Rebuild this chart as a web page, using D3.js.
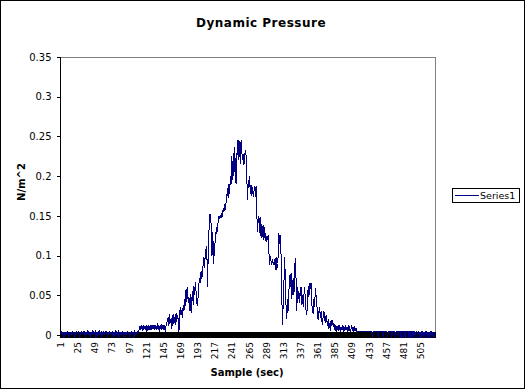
<!DOCTYPE html>
<html><head><meta charset="utf-8">
<script src="https://cdn.jsdelivr.net/npm/d3@7"></script>
<style>
html,body{margin:0;padding:0;background:#fff;}
svg{display:block;}
text{font-family:"DejaVu Sans",Verdana,sans-serif;}
</style></head>
<body>
<svg id="chart" width="527" height="391"></svg>
<script>
const title = "Dynamic Pressure";
const xTitle = "Sample (sec)";
const yTitle = "N/m^2";
const seriesName = "Series1";
const yTicks = [0, 0.05, 0.1, 0.15, 0.2, 0.25, 0.3, 0.35];
const xTickLabels = [1,25,49,73,97,121,145,169,193,217,241,265,289,313,337,361,385,409,433,457,481,505];
const values = [
0.004,0.001,0.004,0.000,0.004,-0.004,0.004,0.001,0.004,0.000,
0.004,0.002,-0.004,0.004,0.001,0.004,0.000,0.004,0.002,0.004,
-0.004,0.004,0.001,0.004,0.000,0.004,0.002,-0.004,0.004,0.001,
0.004,0.000,0.004,0.002,0.004,-0.004,0.004,0.001,0.004,0.000,
0.004,0.002,-0.004,0.004,0.000,0.004,0.001,0.004,0.002,0.004,
-0.004,0.004,0.001,0.004,0.000,0.004,0.002,0.004,-0.004,0.004,
0.001,0.004,0.000,0.004,0.002,0.004,-0.004,0.004,0.001,0.004,
0.000,0.004,0.002,0.004,-0.004,0.004,0.001,0.004,0.000,0.004,
0.002,0.004,-0.004,0.004,0.001,0.004,0.000,0.004,0.002,-0.004,
0.004,0.001,0.004,0.000,0.004,0.002,0.004,-0.004,0.004,0.001,
0.004,0.000,0.004,-0.004,0.004,0.002,0.004,0.001,0.004,0.003,
0.006,0.011,0.006,0.012,0.008,0.006,0.013,0.007,0.011,0.006,
0.012,0.004,0.009,0.013,0.006,0.011,0.007,0.013,0.006,0.012,
0.008,0.013,0.006,0.012,0.007,0.011,0.013,0.006,0.012,0.004,
0.011,0.013,0.007,0.012,0.006,0.013,0.009,0.004,0.012,0.015,
0.018,0.023,0.012,0.026,0.015,0.021,0.008,0.019,0.027,0.014,
0.022,0.012,0.028,0.017,0.025,0.020,0.004,0.028,0.035,0.025,
0.032,0.022,0.038,0.030,0.045,0.036,0.058,0.042,0.060,0.040,
0.048,0.030,0.052,0.028,0.045,0.055,0.038,0.062,0.050,0.067,
0.055,0.040,0.036,0.050,0.065,0.072,0.066,0.080,0.070,0.078,
0.090,0.098,0.085,0.108,0.095,0.112,0.060,0.100,0.130,0.152,
0.152,0.140,0.100,0.130,0.090,0.118,0.100,0.130,0.128,0.136,
0.130,0.145,0.150,0.146,0.151,0.147,0.152,0.150,0.160,0.155,
0.165,0.158,0.167,0.175,0.185,0.172,0.190,0.178,0.200,0.190,
0.225,0.195,0.229,0.200,0.237,0.210,0.190,0.222,0.245,0.220,
0.245,0.235,0.215,0.245,0.232,0.220,0.228,0.214,0.225,0.233,
0.226,0.200,0.170,0.195,0.185,0.200,0.178,0.189,0.175,0.186,
0.174,0.180,0.188,0.174,0.188,0.153,0.130,0.145,0.150,0.128,
0.148,0.122,0.140,0.130,0.120,0.138,0.122,0.128,0.117,0.125,
0.120,0.126,0.104,0.088,0.100,0.092,0.088,0.096,0.090,0.088,
0.096,0.082,0.098,0.082,0.090,0.100,0.128,0.115,0.126,0.100,
0.050,0.012,0.040,0.065,0.098,0.070,0.035,0.020,0.045,0.030,
0.055,0.075,0.060,0.078,0.045,0.060,0.072,0.050,0.085,0.097,
0.070,0.030,0.060,0.045,0.055,0.040,0.058,0.060,0.038,0.050,
0.035,0.050,0.060,0.045,0.030,0.025,0.040,0.062,0.048,0.066,
0.058,0.066,0.040,0.030,0.027,0.045,0.035,0.059,0.050,0.040,
0.025,0.019,0.030,0.035,0.022,0.030,0.018,0.013,0.025,0.030,
0.020,0.015,0.025,0.018,0.012,0.020,0.008,0.015,0.005,0.019,
0.012,0.019,0.010,0.015,0.006,0.012,0.004,0.011,0.008,0.012,
0.005,0.012,0.004,0.010,0.006,0.012,0.004,0.011,0.005,0.012,
0.006,0.010,0.004,0.012,0.005,0.011,0.004,0.008,0.012,0.005,
0.010,0.004,0.011,0.005,0.009,0.004,0.004,0.004,0.004,0.004,
0.004,0.004,0.004,0.004,0.004,0.004,0.004,0.004,0.004,0.004,
0.004,0.004,0.004,0.004,0.004,0.004,0.004,-0.004,0.004,0.004,
0.004,0.004,0.004,0.004,0.004,-0.004,0.004,0.004,0.004,0.004,
0.004,0.004,-0.004,0.004,0.004,0.004,0.004,0.004,-0.004,0.004,
0.004,0.004,0.004,0.004,-0.004,0.004,0.004,0.004,0.004,-0.004,
0.004,0.004,0.004,-0.004,0.004,0.004,0.004,-0.004,0.004,0.004,
0.004,-0.004,0.004,0.004,-0.004,0.004,0.004,0.004,-0.004,0.004,
0.004,-0.004,0.004,0.004,-0.004,0.004,0.004,-0.004,0.004,0.004,
-0.004,0.004,0.004,-0.004,0.004,-0.004,0.004,0.004,-0.004,0.004,
-0.004,0.004,0.004,-0.004,0.004,-0.004,0.004,-0.004,0.004,0.004,
-0.004,0.004,-0.004,0.004,-0.004
];
const samples = values.map((v,i)=>i+1);
const N = values.length;

const svg = d3.select("#chart");
const W = 527, H = 391;
const plot = {left:60, right:435, top:57, bottom:335};

// outer frame
svg.append("rect").attr("x",0.5).attr("y",0.5).attr("width",W-3).attr("height",H-3)
  .attr("fill","#fff").attr("stroke","#000").attr("stroke-width",1);

const x = d3.scaleLinear().domain([0.5, N+0.5]).range([plot.left, plot.right]);
const y = d3.scaleLinear().domain([0, 0.35]).range([plot.bottom, plot.top]);

// plot border (grey top/right)
svg.append("path")
  .attr("d", `M${plot.left},${plot.top+0.5}H${plot.right+0.5}V${plot.bottom}`)
  .attr("fill","none").attr("stroke","#808080").attr("stroke-width",1)
  .attr("shape-rendering","crispEdges");

// Y axis
const yAxis = d3.axisLeft(y).tickValues(yTicks).tickSize(4).tickPadding(5)
  .tickFormat(d => d===0 ? "0" : String(+d.toFixed(2)));
const gy = svg.append("g").attr("transform",`translate(${plot.left+0.5},0)`).call(yAxis);
gy.selectAll("line,path").attr("stroke","#000").attr("shape-rendering","crispEdges");
gy.select(".domain").attr("d",`M0,${plot.top}V${plot.bottom}`);
gy.selectAll("text").attr("font-size","10px").attr("fill","#000");

// X axis tick marks (every category boundary, cross type)
const boundaries = d3.range(0, N+1).map(i => i+0.5);
const xTickAxis = d3.axisBottom(x).tickValues(boundaries).tickSize(6).tickFormat("");
const gxt = svg.append("g").attr("transform",`translate(0,${plot.bottom-3})`).call(xTickAxis);
gxt.select(".domain").remove();
gxt.selectAll("line").attr("stroke","#000").attr("shape-rendering","crispEdges");

// X axis line
svg.append("line").attr("x1",plot.left).attr("x2",plot.right+1)
  .attr("y1",plot.bottom+0.5).attr("y2",plot.bottom+0.5)
  .attr("stroke","#000").attr("shape-rendering","crispEdges");

// X axis labels
const xLabAxis = d3.axisBottom(x).tickValues(xTickLabels).tickSize(0).tickFormat(d3.format("d"));
const gx = svg.append("g").attr("transform",`translate(0,${plot.bottom})`).call(xLabAxis);
gx.select(".domain").remove();
gx.selectAll("text")
  .attr("font-size","9px").attr("fill","#000")
  .attr("text-anchor","end")
  .attr("dy","0.35em")
  .attr("transform","translate(0,7) rotate(-90)")
  .attr("y",0).attr("x",0);

// line
const line = d3.line().x((d,i)=>x(samples[i])).y(d=>y(d));
svg.append("path").datum(values)
  .attr("d", line).attr("fill","none")
  .attr("stroke","#000080").attr("stroke-width",1)
  .attr("shape-rendering","crispEdges");

// titles
svg.append("text").attr("x",261).attr("y",27).attr("text-anchor","middle")
  .attr("font-size","12px").attr("font-weight","bold").attr("letter-spacing","0.5px").text(title);
svg.append("text").attr("x",247).attr("y",376).attr("text-anchor","middle")
  .attr("font-size","10px").attr("font-weight","bold").text(xTitle);
svg.append("text").attr("transform","translate(25,182) rotate(-90)").attr("text-anchor","middle")
  .attr("font-size","10px").attr("font-weight","bold").text(yTitle);

// legend
const lg = svg.append("g").attr("transform","translate(452,188)");
lg.append("rect").attr("x",0.5).attr("y",0.5).attr("width",67).attr("height",14)
  .attr("fill","#fff").attr("stroke","#000").attr("shape-rendering","crispEdges");
lg.append("line").attr("x1",3).attr("x2",27).attr("y1",7.5).attr("y2",7.5)
  .attr("stroke","#000080").attr("stroke-width",1).attr("shape-rendering","crispEdges");
lg.append("text").attr("x",28).attr("y",11).attr("font-size","9.5px").text(seriesName);
</script>
</body></html>
